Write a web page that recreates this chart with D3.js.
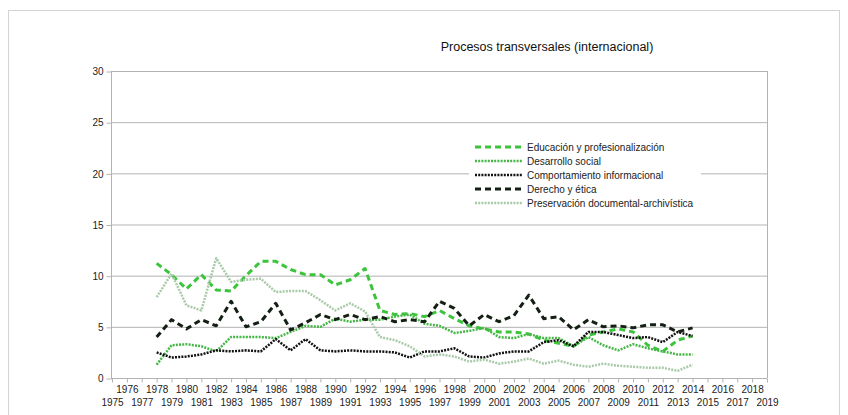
<!DOCTYPE html>
<html>
<head>
<meta charset="utf-8">
<script src="https://cdn.jsdelivr.net/npm/d3@7"></script>
<style>
  body { margin: 0; background: #fff; }
  svg { font-family: "Liberation Sans", Arial, sans-serif; }
</style>
</head>
<body>
<div id="grafico"></div>
<script>
// ---------------- datos ----------------
const titulo = "Procesos transversales (internacional)";
const anios = d3.range(1975, 2020);          // categorias del eje x
const aniosDatos = d3.range(1978, 2015);     // años con valores
const ticksY = [0, 5, 10, 15, 20, 25, 30];

const educacion = [11.2, 10.1, 8.7, 10.1, 8.6, 8.5, 10.0, 11.4, 11.4, 10.6, 10.1, 10.1, 9.1, 9.6, 10.7,
  6.6, 6.2, 6.3, 6.0, 6.6, 5.8, 5.1, 4.8, 4.5, 4.5, 4.3, 3.7, 3.4, 3.1, 4.2, 4.5, 4.8, 4.5, 3.2, 2.6, 3.7, 4.1];
const desarrollo = [1.3, 3.2, 3.3, 3.1, 2.6, 4.0, 4.0, 4.0, 3.9, 4.5, 5.1, 5.0, 5.8, 5.5, 5.7,
  5.7, 6.0, 6.2, 5.3, 5.1, 4.4, 4.6, 4.9, 4.0, 3.9, 4.3, 3.9, 3.9, 3.1, 4.0, 3.2, 2.7, 3.3, 2.9, 2.6, 2.3, 2.3];
const comportamiento = [2.5, 2.0, 2.1, 2.3, 2.7, 2.6, 2.7, 2.6, 3.8, 2.7, 3.8, 2.7, 2.6, 2.7, 2.6,
  2.6, 2.5, 2.0, 2.6, 2.6, 2.9, 2.1, 2.0, 2.4, 2.6, 2.6, 3.5, 3.7, 3.1, 4.5, 4.5, 4.2, 3.9, 4.0, 3.5, 4.5, 4.1];
const derecho = [4.0, 5.7, 4.8, 5.7, 5.1, 7.5, 5.0, 5.5, 7.3, 4.7, 5.4, 6.2, 5.7, 6.2, 5.7,
  6.0, 5.5, 5.7, 5.5, 7.5, 6.8, 5.1, 6.2, 5.5, 6.1, 8.1, 5.8, 6.0, 4.7, 5.7, 5.0, 5.1, 4.9, 5.2, 5.2, 4.5, 4.9];
const preservacion = [7.9, 10.2, 7.1, 6.6, 11.7, 9.4, 9.6, 9.7, 8.4, 8.5, 8.5, 7.6, 6.6, 7.3, 6.5,
  4.0, 3.7, 3.1, 2.1, 2.3, 2.1, 1.6, 1.8, 1.4, 1.6, 1.9, 1.4, 1.7, 1.3, 1.1, 1.4, 1.2, 1.1, 1.0, 1.0, 0.7, 1.3];

// ---------------- estilos de series ----------------
const series = [
  {nombre: "Educación y profesionalización", valores: educacion, color: "#3cc43c", ancho: 3, trazo: "6,4"},
  {nombre: "Desarrollo social", valores: desarrollo, color: "#46b646", ancho: 2.5, trazo: "2,1.2"},
  {nombre: "Comportamiento informacional", valores: comportamiento, color: "#111", ancho: 2.5, trazo: "2,1.2"},
  {nombre: "Derecho y ética", valores: derecho, color: "#152015", ancho: 3, trazo: "6,4"},
  {nombre: "Preservación documental-archivística", valores: preservacion, color: "#a9caa9", ancho: 2.5, trazo: "2,1.2"}
];

// ---------------- grafico ----------------
const width = 848, height = 415;
const margin = {left: 111, right: 81, top: 71, bottom: 37};

const svg = d3.select("#grafico").append("svg")
  .attr("width", width)
  .attr("height", height);

// borde exterior
svg.append("rect")
  .attr("x", 8.5).attr("y", 10.5)
  .attr("width", 831).attr("height", 410)
  .attr("fill", "none").attr("stroke", "#d4d4d4");

const x = d3.scalePoint()
  .domain(anios)
  .range([112, width - margin.right]);

const y = d3.scaleLinear()
  .domain([0, 30])
  .range([height - margin.bottom, margin.top]);

// lineas de rejilla
svg.append("g")
  .selectAll("line")
  .data(ticksY)
  .enter()
  .append("line")
  .attr("x1", margin.left)
  .attr("x2", width - margin.right)
  .attr("y1", d => y(d) + 0.5)
  .attr("y2", d => y(d) + 0.5)
  .attr("stroke", "#b3b3b3");

// borde derecho del area
svg.append("line")
  .attr("x1", width - margin.right + 0.5).attr("x2", width - margin.right + 0.5)
  .attr("y1", y(30)).attr("y2", y(0))
  .attr("stroke", "#b3b3b3");

// eje y
const ejeY = svg.append("g")
  .attr("transform", `translate(${margin.left + 0.5}, 0.5)`)
  .call(d3.axisLeft(y).tickValues(ticksY).tickSize(5).tickPadding(3));
ejeY.selectAll("line, path").attr("stroke", "#b3b3b3");
ejeY.select(".domain").attr("d", `M0,${y(30)}V${y(0)}`);
ejeY.selectAll("text").attr("font-size", "10px").attr("fill", "#222")
  .attr("font-family", "Liberation Sans, Arial, sans-serif");

// eje x
const ejeX = svg.append("g")
  .attr("transform", `translate(0, ${y(0) + 0.5})`)
  .call(d3.axisBottom(x).tickSize(4).tickPadding(3).tickSizeOuter(0));
ejeX.selectAll("line, path").attr("stroke", "#b3b3b3");
ejeX.select(".domain").attr("d", `M${margin.left},0H${width - margin.right}`);
ejeX.selectAll("text")
  .attr("font-size", "10px").attr("fill", "#222")
  .attr("font-family", "Liberation Sans, Arial, sans-serif")
  .attr("dy", d => d % 2 === 0 ? "0.71em" : "2.0em");

// lineas de datos
const linea = d3.line()
  .x((d, i) => x(aniosDatos[i]))
  .y(d => y(d));

series.forEach(s => {
  svg.append("path")
    .datum(s.valores)
    .attr("d", linea)
    .attr("fill", "none")
    .attr("stroke", s.color)
    .attr("stroke-width", s.ancho)
    .attr("stroke-dasharray", s.trazo)
    .attr("stroke-linejoin", "round");
});

// titulo
svg.append("text")
  .attr("x", 547)
  .attr("y", 51)
  .attr("text-anchor", "middle")
  .attr("font-size", "12.5px")
  .attr("fill", "#111")
  .text(titulo);

// leyenda
const leyenda = svg.append("g").attr("transform", "translate(469, 139)");
leyenda.append("rect")
  .attr("width", 232).attr("height", 72)
  .attr("fill", "#fff");

series.forEach((s, i) => {
  const fila = leyenda.append("g").attr("transform", `translate(0, ${8 + i * 14})`);
  fila.append("line")
    .attr("x1", 6).attr("x2", 53)
    .attr("stroke", s.color)
    .attr("stroke-width", s.ancho)
    .attr("stroke-dasharray", s.trazo);
  fila.append("text")
    .attr("x", 58)
    .attr("y", 4)
    .attr("font-size", "10px")
    .attr("fill", "#222")
    .text(s.nombre);
});
</script>
</body>
</html>
